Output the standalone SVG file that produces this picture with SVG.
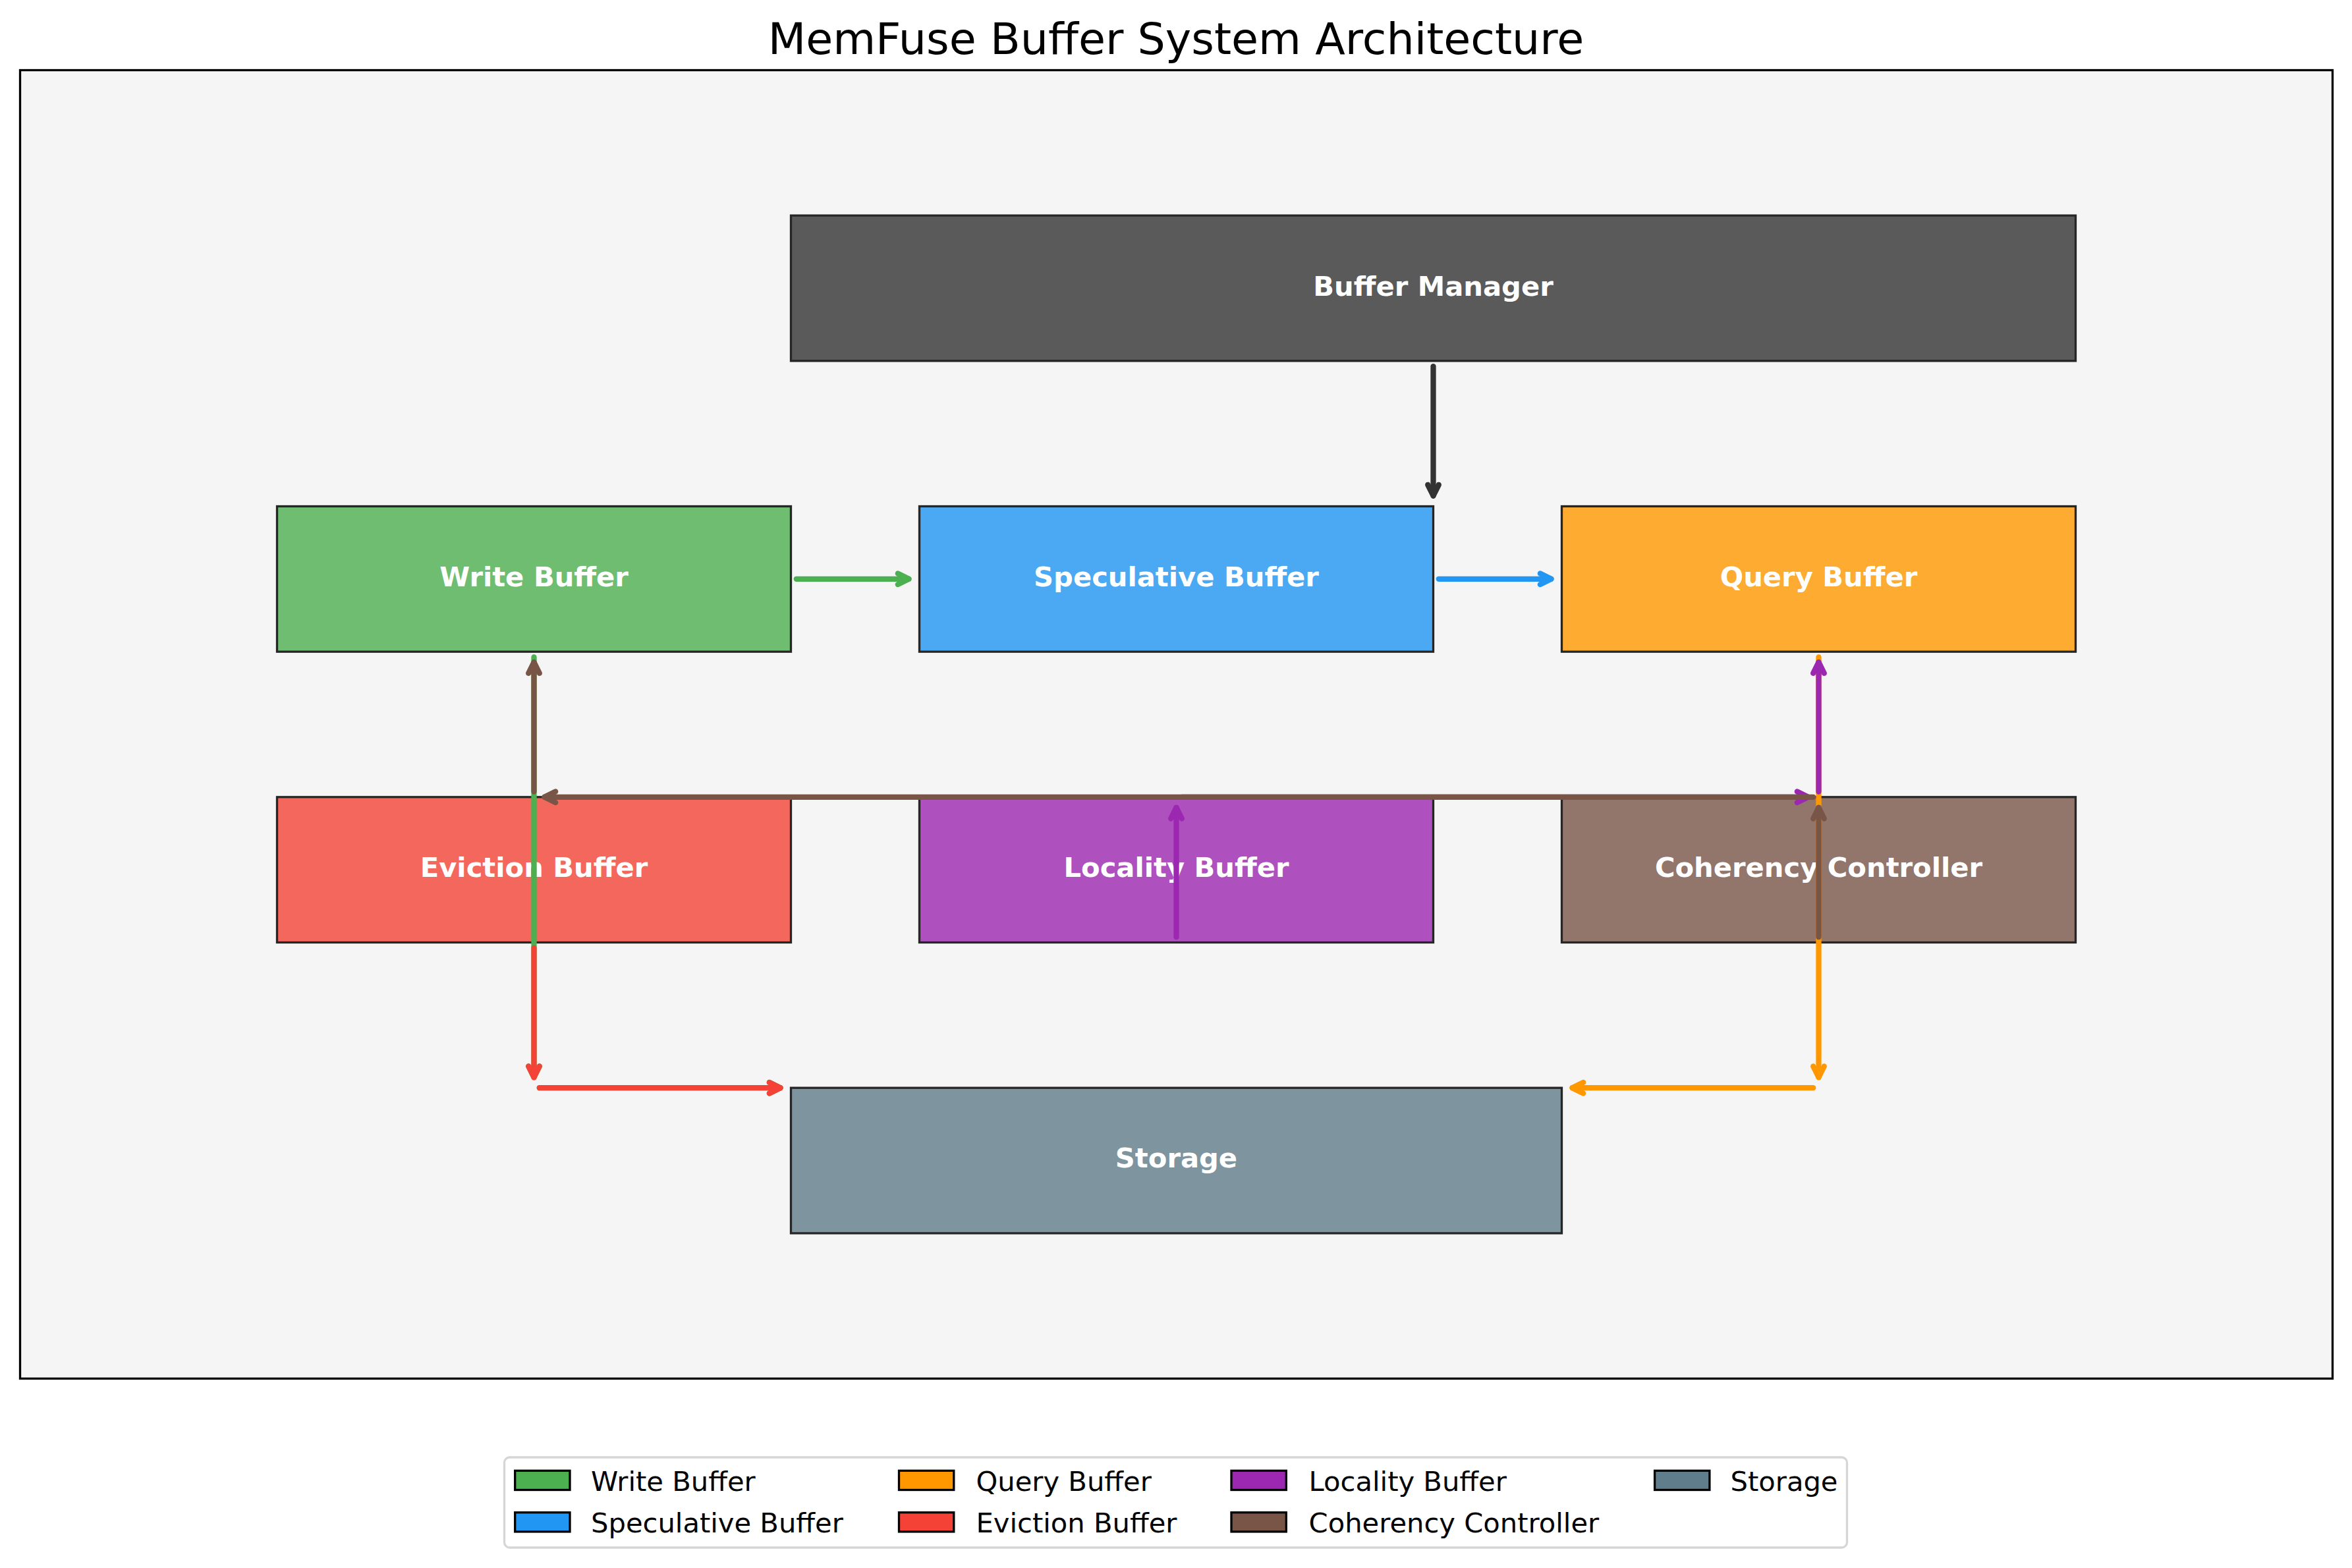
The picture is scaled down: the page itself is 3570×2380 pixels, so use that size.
<svg xmlns="http://www.w3.org/2000/svg" width="3570" height="2380" viewBox="0 0 3570 2380">
<style>
text{font-family:"DejaVu Sans","Liberation Sans",sans-serif}
.title{font-size:66.67px;fill:#000;text-anchor:middle}
.box{stroke:#262626;stroke-width:3.3;fill-opacity:0.8}
.lbl{font-size:41.67px;font-weight:bold;fill:#fff;text-anchor:middle}
.c{fill:none;stroke-width:8.3;stroke-linecap:round}
.hd{fill:none;stroke-width:8.3;stroke-linecap:round;stroke-linejoin:round}
.lh{stroke:#000;stroke-width:3.3}
.lt{font-size:41.67px;fill:#000}
</style>
<defs>
<marker id="h-k" markerUnits="userSpaceOnUse" orient="auto" overflow="visible" markerWidth="1" markerHeight="1"><path class="hd" stroke="#333333" d="M-16.7,-8.3L0,0L-16.7,8.3"/></marker>
<marker id="h-g" markerUnits="userSpaceOnUse" orient="auto" overflow="visible" markerWidth="1" markerHeight="1"><path class="hd" stroke="#4CAF50" d="M-16.7,-8.3L0,0L-16.7,8.3"/></marker>
<marker id="h-b" markerUnits="userSpaceOnUse" orient="auto" overflow="visible" markerWidth="1" markerHeight="1"><path class="hd" stroke="#2196F3" d="M-16.7,-8.3L0,0L-16.7,8.3"/></marker>
<marker id="h-o" markerUnits="userSpaceOnUse" orient="auto" overflow="visible" markerWidth="1" markerHeight="1"><path class="hd" stroke="#FF9800" d="M-16.7,-8.3L0,0L-16.7,8.3"/></marker>
<marker id="h-r" markerUnits="userSpaceOnUse" orient="auto" overflow="visible" markerWidth="1" markerHeight="1"><path class="hd" stroke="#F44336" d="M-16.7,-8.3L0,0L-16.7,8.3"/></marker>
<marker id="h-p" markerUnits="userSpaceOnUse" orient="auto" overflow="visible" markerWidth="1" markerHeight="1"><path class="hd" stroke="#9C27B0" d="M-16.7,-8.3L0,0L-16.7,8.3"/></marker>
<marker id="h-n" markerUnits="userSpaceOnUse" orient="auto" overflow="visible" markerWidth="1" markerHeight="1"><path class="hd" stroke="#795548" d="M-16.7,-8.3L0,0L-16.7,8.3"/></marker>
</defs>
<rect x="0" y="0" width="3570" height="2380" fill="#ffffff"/>
<text class="title" x="1785" y="82">MemFuse Buffer System Architecture</text>
<rect id="axes" x="30.5" y="106.5" width="3510" height="1986" fill="#f5f5f5" stroke="#000" stroke-width="3.3"/>

<g id="buffer-manager">
<rect class="box" x="1200.5" y="327.1" width="1950" height="220.7" fill="#333333"/>
<text class="lbl" x="2175.5" y="449">Buffer Manager</text>
</g>
<g id="write-buffer">
<rect class="box" x="420.5" y="768.5" width="780" height="220.7" fill="#4CAF50"/>
<text class="lbl" x="810.5" y="890">Write Buffer</text>
</g>
<g id="speculative-buffer">
<rect class="box" x="1395.5" y="768.5" width="780" height="220.7" fill="#2196F3"/>
<text class="lbl" x="1785.5" y="890">Speculative Buffer</text>
</g>
<g id="query-buffer">
<rect class="box" x="2370.5" y="768.5" width="780" height="220.7" fill="#FF9800"/>
<text class="lbl" x="2760.5" y="890">Query Buffer</text>
</g>
<g id="eviction-buffer">
<rect class="box" x="420.5" y="1209.8" width="780" height="220.7" fill="#F44336"/>
<text class="lbl" x="810.5" y="1331">Eviction Buffer</text>
</g>
<g id="locality-buffer">
<rect class="box" x="1395.5" y="1209.8" width="780" height="220.7" fill="#9C27B0"/>
<text class="lbl" x="1785.5" y="1331">Locality Buffer</text>
</g>
<g id="coherency-controller">
<rect class="box" x="2370.5" y="1209.8" width="780" height="220.7" fill="#795548"/>
<text class="lbl" x="2760.5" y="1331">Coherency Controller</text>
</g>
<g id="storage">
<rect class="box" x="1200.5" y="1651.2" width="1170" height="220.7" fill="#607D8B"/>
<text class="lbl" x="1785.5" y="1772">Storage</text>
</g>

<g id="connectors">
<line class="c" stroke="#333333" x1="2175.5" y1="556.1" x2="2175.5" y2="752.5" marker-end="url(#h-k)"/>
<line class="c" stroke="#4CAF50" x1="1208.8" y1="878.8" x2="1379.5" y2="878.8" marker-end="url(#h-g)"/>
<line class="c" stroke="#2196F3" x1="2183.8" y1="878.8" x2="2354.5" y2="878.8" marker-end="url(#h-b)"/>
<line class="c" stroke="#4CAF50" x1="810.5" y1="997.5" x2="810.5" y2="1635.2" marker-end="url(#h-g)"/>
<line class="c" stroke="#4CAF50" x1="818.8" y1="1651.2" x2="1184.5" y2="1651.2" marker-end="url(#h-g)"/>
<line class="c" stroke="#FF9800" x1="2760.5" y1="997.5" x2="2760.5" y2="1635.2" marker-end="url(#h-o)"/>
<line class="c" stroke="#FF9800" x1="2752.2" y1="1651.2" x2="2386.5" y2="1651.2" marker-end="url(#h-o)"/>
<line class="c" stroke="#F44336" x1="810.5" y1="1438.8" x2="810.5" y2="1635.2" marker-end="url(#h-r)"/>
<line class="c" stroke="#F44336" x1="818.8" y1="1651.2" x2="1184.5" y2="1651.2" marker-end="url(#h-r)"/>
<line class="c" stroke="#9C27B0" x1="1785.5" y1="1422.2" x2="1785.5" y2="1225.8" marker-end="url(#h-p)"/>
<line class="c" stroke="#9C27B0" x1="1793.8" y1="1209.8" x2="2744.5" y2="1209.8" marker-end="url(#h-p)"/>
<line class="c" stroke="#9C27B0" x1="2760.5" y1="1201.5" x2="2760.5" y2="1005.2" marker-end="url(#h-p)"/>
<line class="c" stroke="#795548" x1="2760.5" y1="1422.2" x2="2760.5" y2="1225.8" marker-end="url(#h-n)"/>
<line class="c" stroke="#795548" x1="2752.2" y1="1209.8" x2="826.5" y2="1209.8" marker-end="url(#h-n)"/>
<line class="c" stroke="#795548" x1="810.5" y1="1201.5" x2="810.5" y2="1005.2" marker-end="url(#h-n)"/>
</g>

<g id="legend">
<rect x="765.5" y="2212" width="2038" height="137" rx="8" ry="8" fill="#ffffff" stroke="#d6d6d6" stroke-width="3.3"/>
<rect class="lh" x="781.7" y="2232.3" width="83.3" height="29.2" fill="#4CAF50"/>
<text class="lt" x="897" y="2263">Write Buffer</text>
<rect class="lh" x="781.7" y="2295.7" width="83.3" height="29.2" fill="#2196F3"/>
<text class="lt" x="897" y="2326">Speculative Buffer</text>
<rect class="lh" x="1364.5" y="2232.3" width="83.3" height="29.2" fill="#FF9800"/>
<text class="lt" x="1481.5" y="2263">Query Buffer</text>
<rect class="lh" x="1364.5" y="2295.7" width="83.3" height="29.2" fill="#F44336"/>
<text class="lt" x="1481.5" y="2326">Eviction Buffer</text>
<rect class="lh" x="1869" y="2232.3" width="83.3" height="29.2" fill="#9C27B0"/>
<text class="lt" x="1986.6" y="2263">Locality Buffer</text>
<rect class="lh" x="1869" y="2295.7" width="83.3" height="29.2" fill="#795548"/>
<text class="lt" x="1986.6" y="2326">Coherency Controller</text>
<rect class="lh" x="2511.6" y="2232.3" width="83.3" height="29.2" fill="#607D8B"/>
<text class="lt" x="2626.5" y="2263">Storage</text>
</g>
</svg>
